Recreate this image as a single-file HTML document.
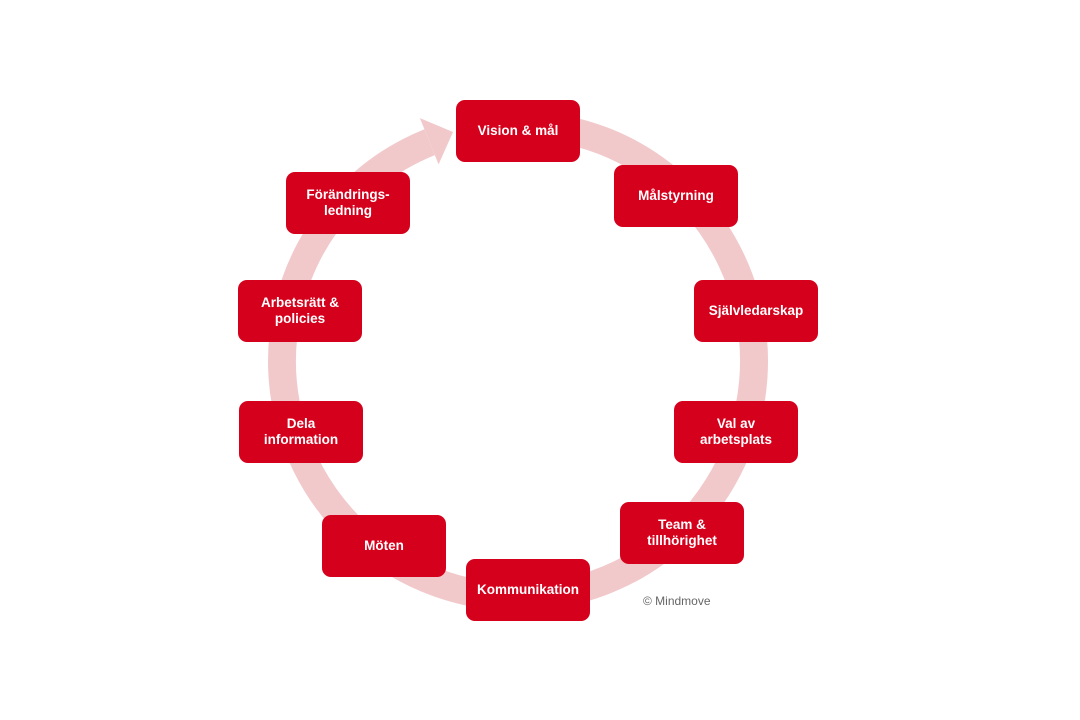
<!DOCTYPE html>
<html><head><meta charset="utf-8"><style>
html,body{margin:0;padding:0;background:#fff;width:1080px;height:720px;overflow:hidden;position:relative;font-family:"Liberation Sans",Arial,sans-serif}
svg{position:absolute;left:0;top:0}
.b{position:absolute;width:124px;height:62px;background:#d5001c;border-radius:9px;color:#fff;font-weight:bold;font-size:13.5px;line-height:16px;display:flex;align-items:center;justify-content:center;text-align:center}
.c{position:absolute;left:643px;top:594px;font-size:12px;color:#666}
</style></head><body>
<svg width="1080" height="720">
<path d="M559,128.6 A236,236 0 1 1 429.6,142.2" fill="none" stroke="#f1c9cb" stroke-width="28"/>
<polygon points="438.6,164.4 419.9,118.1 453,132" fill="#f1c9cb"/>
</svg>
<div class="b" style="left:456px;top:100px">Vision &amp; mål</div>
<div class="b" style="left:614px;top:165px">Målstyrning</div>
<div class="b" style="left:694px;top:280px">Självledarskap</div>
<div class="b" style="left:674px;top:401px">Val av<br>arbetsplats</div>
<div class="b" style="left:620px;top:502px">Team &amp;<br>tillhörighet</div>
<div class="b" style="left:466px;top:559px">Kommunikation</div>
<div class="b" style="left:322px;top:515px">Möten</div>
<div class="b" style="left:239px;top:401px">Dela<br>information</div>
<div class="b" style="left:238px;top:280px">Arbetsrätt &amp;<br>policies</div>
<div class="b" style="left:286px;top:172px">Förändrings-<br>ledning</div>
<div class="c">© Mindmove</div>
</body></html>
